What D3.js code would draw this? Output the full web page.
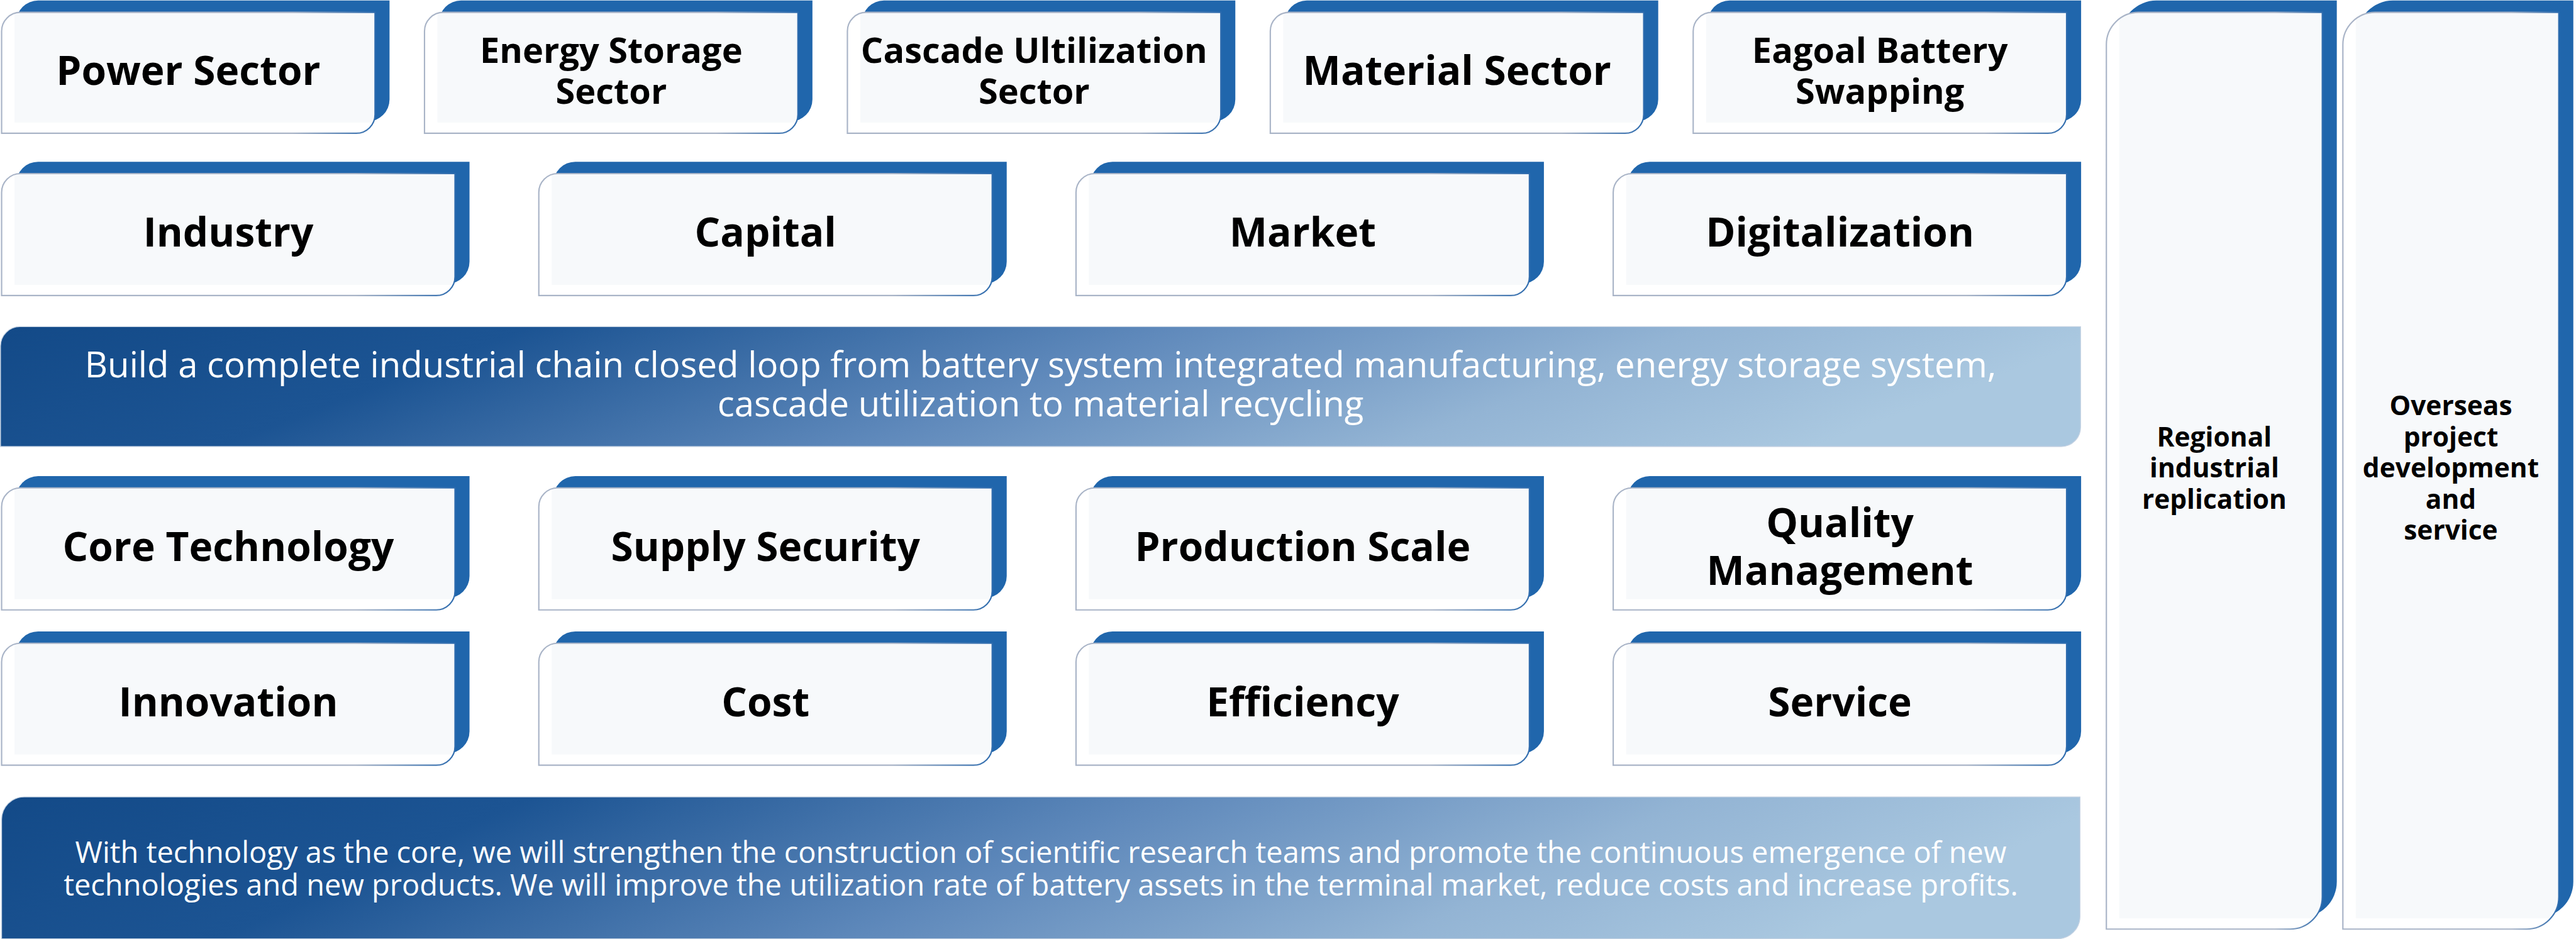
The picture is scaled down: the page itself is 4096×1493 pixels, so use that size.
<!DOCTYPE html>
<html>
<head>
<meta charset="utf-8">
<script src="https://cdn.jsdelivr.net/npm/d3@7"></script>
<style>
  html, body { margin: 0; padding: 0; background: #fff; }
  svg { display: block; }
</style>
</head>
<body>
<svg id="chart"></svg>
<script>
// ---- content ----
const sectorLabels = ['Power Sector', 'Energy Storage\nSector', 'Cascade Ultilization\nSector', 'Material Sector', 'Eagoal Battery\nSwapping'];
const pillarLabels = ['Industry', 'Capital', 'Market', 'Digitalization'];
const strengthLabels = ['Core Technology', 'Supply Security', 'Production Scale', 'Quality\nManagement'];
const valueLabels = ['Innovation', 'Cost', 'Efficiency', 'Service'];
const sideLabels = ['Regional\nindustrial\nreplication', 'Overseas\nproject\ndevelopment\nand\nservice'];
const chainLines = [
  'Build a complete industrial chain closed loop from battery system integrated manufacturing, energy storage system,',
  'cascade utilization to material recycling'
];
const missionLines = [
  'With technology as the core, we will strengthen the construction of scientific research teams and promote the continuous emergence of new',
  'technologies and new products. We will improve the utilization rate of battery assets in the terminal market, reduce costs and increase profits.'
];

const W = 4096, H = 1493;
const REF_W = 4794;
const k = W / REF_W; // drawn in reference units, scaled down
const FONT = '"Open Sans", "Noto Sans", sans-serif';
const BLUE = '#2066ac';

const svg = d3.select('#chart').attr('width', W).attr('height', H);
const defs = svg.append('defs');
const g = svg.append('g').attr('transform', `scale(${k})`);

// stroke of the white cards: grey, turning blue at the right end
const sg = defs.append('linearGradient').attr('id', 'cardStroke')
  .attr('x1', 0).attr('y1', 0).attr('x2', 1).attr('y2', 0);
sg.append('stop').attr('offset', '0%').attr('stop-color', '#a9b4c7');
sg.append('stop').attr('offset', '78%').attr('stop-color', '#a9b4c7');
sg.append('stop').attr('offset', '100%').attr('stop-color', '#2f6cae');

// banner fill: dark blue to pale blue
const bg = defs.append('linearGradient').attr('id', 'bannerFill')
  .attr('x1', 0).attr('y1', 0).attr('x2', 1).attr('y2', 0.15);
[['0%', '#134a88'], ['25%', '#1c5493'], ['55%', '#5f89bb'], ['80%', '#93b4d4'], ['100%', '#aac8e0']]
  .forEach(([o, c]) => bg.append('stop').attr('offset', o).attr('stop-color', c));

// shape with rounded top-left and bottom-right corners
const tabPath = (x, y, w, h, r) =>
  `M${x},${y + r}A${r},${r} 0 0 1 ${x + r},${y}H${x + w}V${y + h - r}A${r},${r} 0 0 1 ${x + w - r},${y + h}H${x}Z`;

let clipId = 0;
const drawCard = (x, y, w, h, r) => {
  const card = g.append('g');
  card.append('path').attr('d', tabPath(x + 27, y - 22, w, h, r + 6)).attr('fill', BLUE);
  const id = `clip${clipId++}`;
  defs.append('clipPath').attr('id', id).append('path').attr('d', tabPath(x, y, w, h, r));
  card.append('path').attr('d', tabPath(x, y, w, h, r)).attr('fill', '#fff');
  card.append('rect')
    .attr('x', x + 24).attr('y', y).attr('width', w - 24).attr('height', h - 20)
    .attr('fill', '#f7f9fb').attr('clip-path', `url(#${id})`);
  card.append('path').attr('d', tabPath(x, y, w, h, r))
    .attr('fill', 'none').attr('stroke', 'url(#cardStroke)').attr('stroke-width', 2.5);
  return card;
};

const measure = (txt, weight, fs) => {
  const t = g.append('text').attr('font-family', FONT).attr('font-weight', weight)
    .attr('font-size', fs).text(txt);
  const w = t.node().getComputedTextLength();
  t.remove();
  return w;
};
const fitSize = (txt, weight, target) => 100 * target / measure(txt, weight, 100);

const addLabel = (sel, label, cx, cy, fs, lh, weight, fill) => {
  const lines = Array.isArray(label) ? label : label.split('\n');
  const t = sel.append('text').attr('text-anchor', 'middle')
    .attr('font-family', FONT).attr('font-weight', weight)
    .attr('font-size', fs).attr('fill', fill);
  lines.forEach((line, i) => {
    t.append('tspan').attr('x', cx)
      .attr('y', cy + (i - (lines.length - 1) / 2) * lh + 0.357 * fs)
      .text(line);
  });
};

const boldSize = fitSize('Power Sector', 700, 492);
const smallBoldSize = fitSize('Energy Storage', 700, 489);
const sideSize = fitSize('Regional', 700, 214);
const chainSize = fitSize(chainLines[0], 400, 3558);
const missionSize = fitSize(missionLines[0], 400, 3595);

// ---- card rows ----
const rows = [
  { labels: sectorLabels, y: 23, h: 225, pad: 0.117 },
  { labels: pillarLabels, y: 323, h: 227, pad: 0.156 },
  { labels: strengthLabels, y: 908, h: 227, pad: 0.156 },
  { labels: valueLabels, y: 1197, h: 227, pad: 0.156 }
];

rows.forEach((row) => {
  const x = d3.scaleBand().domain(row.labels).range([3, 3846]).paddingInner(row.pad);
  row.labels.forEach((label) => {
    const card = drawCard(x(label), row.y, x.bandwidth(), row.h, 35);
    const twoLine = label.includes('\n');
    const fs = twoLine && row.labels === sectorLabels ? smallBoldSize : boldSize;
    const lh = row.labels === sectorLabels ? 76 : 89;
    addLabel(card, label, x(label) + x.bandwidth() / 2, row.y + row.h / 2 - 4, fs, lh, 700, '#000');
  });
});

// ---- side columns ----
const sx = d3.scaleBand().domain(sideLabels).range([3920, 4762]).paddingInner(0.087);
sideLabels.forEach((label) => {
  const card = drawCard(sx(label), 23, sx.bandwidth(), 1706, 60);
  addLabel(card, label, sx(label) + sx.bandwidth() / 2, 871, sideSize, 58, 700, '#000');
});

// ---- banners ----
const banner = (x, y, w, h, r, lines, fs, lh, cy) => {
  const b = g.append('g');
  b.append('path').attr('d', tabPath(x, y, w, h, r)).attr('fill', 'url(#bannerFill)')
    .attr('stroke', '#c3d1e2').attr('stroke-width', 1.5);
  addLabel(b, lines, x + w / 2, cy, fs, lh, 400, '#fff');
};

banner(1, 608, 3871, 223, 36, chainLines, chainSize, 73, 715);
banner(3, 1483, 3868, 264, 42, missionLines, missionSize, 61, 1617);
</script>
</body>
</html>
